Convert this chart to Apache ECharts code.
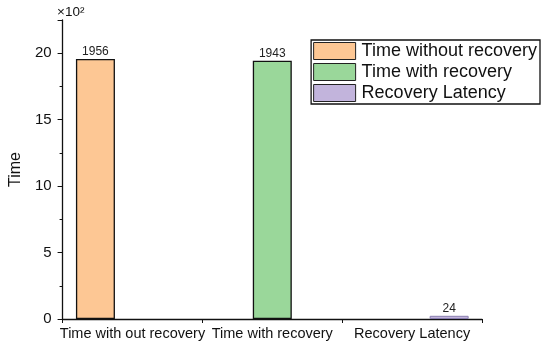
<!DOCTYPE html>
<html><head><meta charset="utf-8">
<script src="https://cdn.jsdelivr.net/npm/echarts@6/dist/echarts.min.js"></script>
<style>html,body{margin:0;padding:0;background:#fff}#c{width:550px;height:347px}</style>
</head><body><div id="c"></div>
<script>
var categories = ['Time with out recovery', 'Time with recovery', 'Recovery Latency'];
var seriesNames = ['Time without recovery', 'Time with recovery', 'Recovery Latency'];
var rawValues = [1956, 1943, 24];
var colors = ['#FDC794', '#9AD79A', '#C2B4DC'];
var yTicks = [0, 5, 10, 15, 20];

var chart = echarts.init(document.getElementById('c'));
var font = 'Liberation Sans, Arial, sans-serif';
var series = seriesNames.map(function (name, i) {
  var d = categories.map(function (c, j) { return j === i ? rawValues[i] / 100 : null; });
  return {
    name: name, type: 'bar', data: d, barWidth: 39, barGap: '-5%',
    itemStyle: { color: colors[i], borderColor: i === 2 ? '#8a7fb0' : '#111', borderWidth: i === 2 ? 1 : 1.3 },
    label: { show: true, position: 'top', distance: 1, fontFamily: font, fontSize: 12, color: '#222',
      formatter: function (p) { return rawValues[i]; } },
    xAxisIndex: 0, yAxisIndex: 0
  };
});
series.push({ type: 'line', data: [], xAxisIndex: 1, yAxisIndex: 0 });

chart.setOption({
  animation: false,
  grid: { left: 55, right: 68, top: 20, bottom: 28 },
  legend: {
    data: seriesNames, orient: 'vertical', right: 10, top: 40, itemWidth: 42, itemHeight: 17, itemGap: 3,
    icon: 'rect',
    padding: [2, 3, 2, 2], borderColor: '#111', borderWidth: 1.3,
    textStyle: { fontFamily: font, fontSize: 18, color: '#111', padding: [0, 0, 0, 1] },
    itemStyle: { borderColor: '#222', borderWidth: 1 }
  },
  xAxis: [{
    type: 'category', data: categories,
    axisLine: { lineStyle: { color: '#111', width: 1.3 } },
    axisTick: { alignWithLabel: true, length: 5, lineStyle: { color: '#111' } },
    axisLabel: { interval: 0, fontFamily: font, fontSize: 14.5, color: '#111', margin: 7 }
  }, {
    type: 'value', min: 0, max: 3, interval: 1, position: 'bottom',
    axisLine: { show: false }, splitLine: { show: false }, axisLabel: { show: false },
    axisTick: { show: true, length: 4, lineStyle: { color: '#111' } }
  }],
  yAxis: {
    type: 'value', min: 0, max: 22.5, interval: 5,
    name: 'Time', nameLocation: 'middle', nameGap: 37,
    nameTextStyle: { fontFamily: font, fontSize: 16, color: '#111' },
    axisLine: { show: true, lineStyle: { color: '#111', width: 1.3 } },
    axisTick: { show: true, length: 5, lineStyle: { color: '#111' } },
    minorTick: { show: true, splitNumber: 2, length: 3, lineStyle: { color: '#111' } },
    splitLine: { show: false },
    axisLabel: { fontFamily: font, fontSize: 15, color: '#111', margin: 11,
      formatter: function (v) { return yTicks.indexOf(v) >= 0 ? v : ''; } }
  },
  graphic: [{ type: 'text', left: 57, top: 5, style: { text: '×10²', font: '13.5px ' + font, fill: '#111' } }],
  series: series
});
</script></body></html>
